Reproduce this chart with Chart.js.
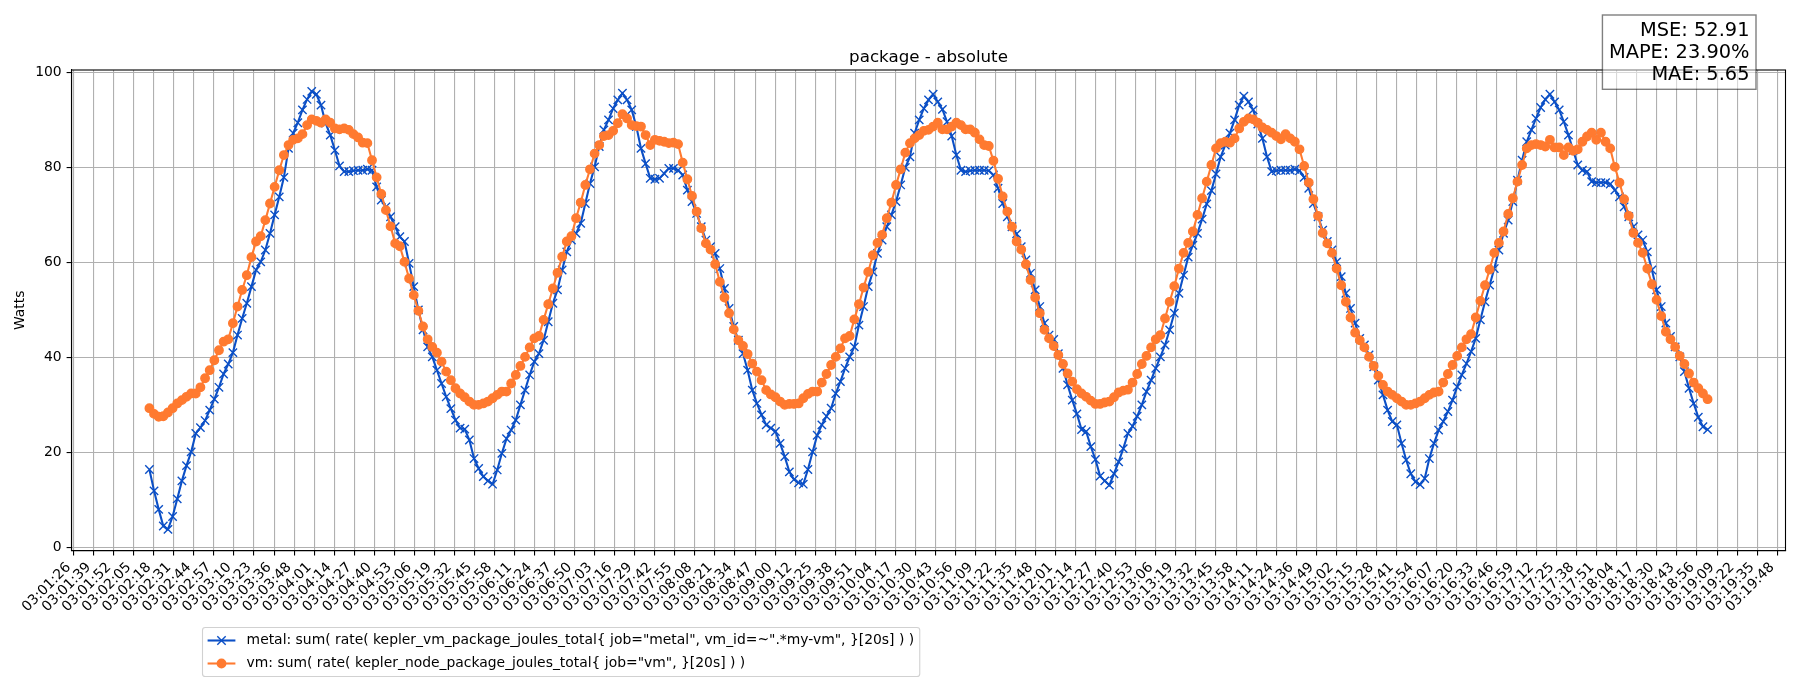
<html lang="en">
<head>
    <meta charset="UTF-8">
    <title>package - absolute</title>
    <script src="https://cdn.jsdelivr.net/npm/chart.js@4.4.0"></script>
    <style>
        body { margin: 0; background: #fff; }
        canvas { display: block; }
    </style>
</head>
<body>
    <canvas id="myChart" width="1800" height="700"></canvas>
    <script>
        const chartTitle = 'package - absolute';

        // x axis tick labels, evenly spaced (~13 s apart)
        const tickLabels = [
            '03:01:26', '03:01:39', '03:01:52', '03:02:05', '03:02:18', '03:02:31', '03:02:44', '03:02:57',
            '03:03:10', '03:03:23', '03:03:36', '03:03:48', '03:04:01', '03:04:14', '03:04:27', '03:04:40',
            '03:04:53', '03:05:06', '03:05:19', '03:05:32', '03:05:45', '03:05:58', '03:06:11', '03:06:24',
            '03:06:37', '03:06:50', '03:07:03', '03:07:16', '03:07:29', '03:07:42', '03:07:55', '03:08:08',
            '03:08:21', '03:08:34', '03:08:47', '03:09:00', '03:09:12', '03:09:25', '03:09:38', '03:09:51',
            '03:10:04', '03:10:17', '03:10:30', '03:10:43', '03:10:56', '03:11:09', '03:11:22', '03:11:35',
            '03:11:48', '03:12:01', '03:12:14', '03:12:27', '03:12:40', '03:12:53', '03:13:06', '03:13:19',
            '03:13:32', '03:13:45', '03:13:58', '03:14:11', '03:14:24', '03:14:36', '03:14:49', '03:15:02',
            '03:15:15', '03:15:28', '03:15:41', '03:15:54', '03:16:07', '03:16:20', '03:16:33', '03:16:46',
            '03:16:59', '03:17:12', '03:17:25', '03:17:38', '03:17:51', '03:18:04', '03:18:17', '03:18:30',
            '03:18:43', '03:18:56', '03:19:09', '03:19:22', '03:19:35', '03:19:48'
        ];
        const tickSpacing = 12.965; // seconds between two tick labels

        // one sample every 3 s, first sample 49 s after 03:01:26
        const sampleStart = 49;
        const sampleStep = 3;

        const seriesLabels = [
            'metal: sum( rate( kepler_vm_package_joules_total{ job="metal", vm_id=~".*my-vm", }[20s] ) )',
            'vm: sum( rate( kepler_node_package_joules_total{ job="vm", }[20s] ) )'
        ];

        const metalWatts = [
            16.4, 11.9, 8.0, 4.5, 3.8, 6.5, 10.2, 14.0, 17.2, 20.1,
            24.0, 25.2, 26.7, 28.9, 31.2, 33.7, 36.5, 38.6, 41.0, 44.7,
            48.2, 51.4, 54.9, 58.4, 60.1, 62.6, 66.1, 70.0, 73.8, 77.9,
            84.0, 87.2, 89.4, 92.1, 94.3, 96.0, 95.4, 93.1, 89.3, 86.8,
            83.6, 80.3, 79.1, 79.1, 79.3, 79.4, 79.4, 79.6, 79.4, 75.9,
            73.1, 71.7, 69.6, 67.5, 65.4, 64.4, 59.8, 54.9, 50.0, 45.8,
            42.2, 40.1, 37.3, 34.5, 31.7, 29.2, 26.8, 25.1, 24.9, 22.6,
            18.7, 16.6, 14.9, 14.0, 13.3, 16.3, 19.8, 22.9, 24.7, 26.8,
            30.0, 33.1, 36.3, 39.1, 40.8, 43.6, 47.5, 51.4, 54.2, 58.4,
            62.2, 64.7, 66.1, 68.2, 72.4, 76.6, 80.1, 84.4, 87.9, 90.0,
            92.4, 94.2, 95.6, 94.2, 92.1, 88.6, 84.0, 80.8, 77.7, 77.5,
            77.7, 78.7, 79.8, 79.8, 79.4, 78.4, 75.2, 72.8, 70.3, 67.5,
            64.7, 63.3, 61.9, 58.7, 54.5, 50.3, 46.5, 43.6, 40.8, 37.3,
            33.1, 30.3, 27.9, 25.8, 25.1, 24.4, 21.9, 19.1, 15.9, 14.3,
            13.6, 13.3, 16.4, 20.1, 23.6, 25.8, 27.6, 29.3, 32.4, 34.9,
            37.7, 40.1, 42.2, 46.8, 50.7, 54.9, 58.0, 61.9, 64.7, 67.5,
            70.0, 72.8, 76.3, 80.0, 82.2, 87.2, 90.0, 92.4, 94.2, 95.4,
            93.8, 92.2, 89.6, 86.6, 82.6, 79.4, 79.1, 79.3, 79.4, 79.4,
            79.4, 79.3, 78.4, 75.6, 72.4, 69.6, 67.5, 66.0, 63.3, 60.5,
            57.7, 54.2, 50.7, 47.2, 44.7, 43.8, 40.8, 37.7, 34.2, 31.0,
            28.1, 24.8, 24.4, 21.2, 18.5, 15.0, 14.0, 13.1, 15.5, 18.0,
            20.8, 24.0, 25.5, 27.6, 30.0, 32.8, 35.2, 37.7, 40.1, 42.6,
            45.8, 49.3, 53.5, 57.3, 61.1, 63.6, 66.1, 69.1, 72.3, 75.1,
            78.6, 82.2, 84.7, 87.2, 90.0, 93.1, 95.0, 93.8, 92.1, 89.1,
            86.1, 82.2, 79.1, 79.3, 79.4, 79.4, 79.4, 79.6, 79.3, 77.9,
            75.6, 72.4, 69.6, 66.8, 64.4, 62.6, 60.1, 57.0, 53.5, 50.3,
            47.2, 44.0, 42.6, 40.5, 38.0, 35.2, 32.1, 28.9, 26.5, 25.8,
            21.9, 18.4, 15.5, 13.8, 13.2, 14.5, 18.7, 21.9, 24.7, 26.5,
            28.6, 31.0, 33.8, 36.3, 38.7, 41.2, 44.0, 47.9, 51.7, 55.2,
            58.7, 62.6, 66.1, 68.9, 72.8, 77.3, 81.5, 85.4, 87.9, 90.3,
            92.6, 94.3, 95.4, 93.8, 92.1, 89.6, 86.8, 83.6, 80.5, 79.4,
            79.1, 77.0, 76.8, 76.8, 76.8, 76.5, 75.2, 73.8, 71.7, 69.6,
            67.5, 65.8, 64.7, 62.2, 58.4, 54.2, 50.7, 47.2, 44.4, 42.2,
            40.1, 37.0, 33.5, 30.3, 27.4, 25.4, 24.8
        ];

        const vmWatts = [
            29.3, 28.1, 27.5, 27.6, 28.4, 29.3, 30.3, 31.0, 31.7, 32.4,
            32.4, 33.7, 35.6, 37.3, 39.4, 41.5, 43.3, 43.8, 47.2, 50.7,
            54.2, 57.3, 61.1, 64.4, 65.5, 68.9, 72.4, 75.9, 79.4, 82.6,
            84.7, 85.8, 86.1, 87.0, 88.9, 90.1, 89.8, 89.4, 90.1, 89.4,
            88.2, 88.0, 88.2, 87.9, 87.0, 86.3, 85.2, 85.1, 81.5, 77.9,
            74.4, 71.0, 67.6, 64.0, 63.4, 60.1, 56.6, 53.1, 49.8, 46.5,
            43.8, 42.2, 41.0, 39.1, 37.0, 35.2, 33.5, 32.4, 31.6, 30.7,
            30.0, 30.0, 30.3, 30.7, 31.4, 32.1, 32.8, 32.8, 34.5, 36.3,
            38.2, 40.1, 42.1, 44.0, 44.5, 47.9, 51.2, 54.5, 57.8, 61.2,
            64.4, 65.5, 69.3, 72.6, 76.3, 79.6, 82.9, 84.7, 86.6, 86.8,
            87.7, 89.3, 91.2, 90.3, 88.9, 88.7, 88.6, 86.8, 84.7, 85.8,
            85.6, 85.4, 85.1, 85.2, 84.9, 81.0, 77.5, 74.0, 70.7, 67.2,
            64.0, 62.7, 59.6, 55.9, 52.6, 49.3, 45.9, 43.6, 42.4, 40.7,
            38.7, 37.0, 35.2, 33.1, 32.2, 31.6, 30.7, 30.0, 30.2, 30.2,
            30.3, 31.4, 32.3, 32.8, 32.8, 34.7, 36.5, 38.4, 40.1, 41.9,
            44.0, 44.5, 48.0, 51.2, 54.7, 58.0, 61.5, 64.1, 65.8, 69.3,
            72.6, 76.3, 79.6, 83.1, 85.1, 86.1, 86.8, 87.7, 87.9, 88.6,
            89.4, 88.0, 88.0, 88.6, 89.4, 88.9, 88.0, 88.0, 87.3, 85.9,
            84.7, 84.5, 81.4, 77.6, 73.9, 70.7, 67.5, 64.4, 62.7, 59.6,
            56.3, 52.6, 49.3, 45.8, 44.0, 42.4, 40.5, 38.6, 36.6, 34.9,
            33.3, 32.4, 31.7, 30.9, 30.2, 30.2, 30.5, 30.7, 31.6, 32.6,
            33.0, 33.2, 34.7, 36.5, 38.6, 40.3, 42.1, 43.8, 44.7, 48.2,
            51.7, 55.0, 58.7, 62.0, 64.1, 66.5, 70.0, 73.5, 77.0, 80.5,
            84.0, 85.1, 85.4, 85.2, 86.1, 88.2, 89.6, 90.3, 90.1, 89.4,
            88.4, 87.9, 87.3, 86.6, 85.9, 87.0, 86.1, 85.4, 83.8, 80.3,
            76.8, 73.3, 69.8, 66.2, 64.0, 62.0, 58.7, 55.2, 51.7, 48.4,
            45.2, 43.6, 42.1, 40.1, 38.2, 36.1, 34.2, 32.8, 32.1, 31.4,
            30.7, 30.0, 30.0, 30.3, 30.7, 31.4, 32.1, 32.6, 32.8, 34.7,
            36.5, 38.4, 40.3, 42.1, 43.8, 44.9, 48.4, 51.9, 55.2, 58.5,
            62.0, 64.1, 66.5, 70.2, 73.5, 77.0, 80.5, 84.0, 84.7, 84.9,
            84.7, 84.4, 85.8, 84.2, 84.2, 82.6, 84.2, 83.5, 83.8, 85.4,
            86.5, 87.3, 85.8, 87.3, 85.4, 84.0, 80.1, 76.8, 73.3, 69.8,
            66.2, 64.1, 62.0, 58.7, 55.4, 52.1, 48.7, 45.4, 43.8, 42.2,
            40.3, 38.6, 36.6, 34.7, 33.5, 32.4, 31.2
        ];

        const yTicks = [0, 20, 40, 60, 80, 100];
        const yMin = -0.7;
        const yMax = 100.5;

        const metrics = ['MSE: 52.91', 'MAPE: 23.90%', 'MAE: 5.65'];

        const toPoints = values => values.map((v, i) => ({ x: sampleStart + i * sampleStep, y: v }));

        // matplotlib style 5% margin around the sampled time range
        const firstT = sampleStart;
        const lastT = sampleStart + (metalWatts.length - 1) * sampleStep;
        const xMargin = 0.05 * (lastT - firstT);

        const FONT = '"DejaVu Sans", "Liberation Sans", sans-serif';
        Chart.defaults.font.family = FONT;

        // frame, rotated time labels, title, legend and metrics box
        const overlay = {
            id: 'overlay',
            afterDraw(chart) {
                const ctx = chart.ctx;
                const area = chart.chartArea;
                const xScale = chart.scales.x;
                ctx.save();

                ctx.strokeStyle = '#000';
                ctx.lineWidth = 1.1;
                ctx.strokeRect(area.left, area.top, area.right - area.left, area.bottom - area.top);

                ctx.fillStyle = '#000';
                ctx.font = '13.9px ' + FONT;
                ctx.textAlign = 'right';
                ctx.textBaseline = 'alphabetic';
                xScale.ticks.forEach((t, k) => {
                    const px = xScale.getPixelForValue(t.value);
                    ctx.save();
                    ctx.translate(px, area.bottom + 19.5);
                    ctx.rotate(-Math.PI / 4);
                    ctx.fillText(tickLabels[k], 0, -3.3);
                    ctx.restore();
                });

                ctx.font = '16.7px ' + FONT;
                ctx.textAlign = 'center';
                ctx.fillText(chartTitle, (area.left + area.right) / 2, area.top - 8.3);

                // legend
                ctx.font = '13.9px ' + FONT;
                const textX = 246.6;
                const widest = Math.max(...chart.data.datasets.map(ds => ctx.measureText(ds.label).width));
                const boxL = 202.5, boxT = 627.5, boxB = 676.5;
                const boxR = textX + widest + 5.6;
                ctx.beginPath();
                ctx.roundRect(boxL, boxT, boxR - boxL, boxB - boxT, 2.8);
                ctx.fillStyle = 'rgba(255,255,255,0.8)';
                ctx.fill();
                ctx.strokeStyle = 'rgba(204,204,204,0.9)';
                ctx.lineWidth = 1.1;
                ctx.stroke();
                const rowY = [640.5, 663.5];
                chart.data.datasets.forEach((ds, k) => {
                    const y = rowY[k];
                    const cx = 221.5;
                    ctx.strokeStyle = ds.borderColor;
                    ctx.lineWidth = ds.borderWidth;
                    ctx.beginPath();
                    ctx.moveTo(207.6, y);
                    ctx.lineTo(235.4, y);
                    ctx.stroke();
                    if (ds.pointStyle === 'crossRot') {
                        const r = ds.pointRadius * Math.SQRT1_2;
                        ctx.lineWidth = ds.pointBorderWidth;
                        ctx.beginPath();
                        ctx.moveTo(cx - r, y - r); ctx.lineTo(cx + r, y + r);
                        ctx.moveTo(cx - r, y + r); ctx.lineTo(cx + r, y - r);
                        ctx.stroke();
                    } else {
                        ctx.beginPath();
                        ctx.arc(cx, y, ds.pointRadius + ds.pointBorderWidth / 2, 0, Math.PI * 2);
                        ctx.fillStyle = ds.pointBackgroundColor;
                        ctx.fill();
                    }
                    ctx.fillStyle = '#000';
                    ctx.textAlign = 'left';
                    ctx.textBaseline = 'middle';
                    ctx.fillText(ds.label, textX, y);
                });

                // error metrics box (top right)
                ctx.font = '19.4px ' + FONT;
                ctx.textBaseline = 'alphabetic';
                ctx.textAlign = 'right';
                const mRight = 1749.5;
                const mWidest = Math.max(...metrics.map(m => ctx.measureText(m).width));
                const mL = mRight - mWidest - 6.5, mT = 15, mR = 1756, mB = 89.3;
                ctx.fillStyle = 'rgba(255,255,255,0.5)';
                ctx.fillRect(mL, mT, mR - mL, mB - mT);
                ctx.strokeStyle = 'rgba(0,0,0,0.5)';
                ctx.lineWidth = 1.4;
                ctx.strokeRect(mL, mT, mR - mL, mB - mT);
                ctx.fillStyle = '#000';
                metrics.forEach((m, k) => ctx.fillText(m, mRight, 36 + 22.2 * k));

                ctx.restore();
            }
        };

        const gridOpts = { color: '#b0b0b0', lineWidth: 1.1, drawTicks: true, tickLength: 4.9, tickColor: '#000', tickWidth: 1.1 };
        const borderOpts = { display: true, color: '#000', width: 1.1 };

        const ctx = document.getElementById('myChart').getContext('2d');
        const myChart = new Chart(ctx, {
            type: 'line',
            data: {
                datasets: [{
                    label: seriesLabels[0],
                    data: toPoints(metalWatts),
                    borderColor: '#0b4fc6',
                    backgroundColor: '#0b4fc6',
                    borderWidth: 2.08,
                    pointStyle: 'crossRot',
                    pointRadius: 5.9,
                    pointBorderWidth: 1.4,
                    pointBorderColor: '#0b4fc6',
                    pointBackgroundColor: '#0b4fc6',
                    fill: false,
                    order: 1
                }, {
                    label: seriesLabels[1],
                    data: toPoints(vmWatts),
                    borderColor: '#ff7a30',
                    backgroundColor: '#ff7a30',
                    borderWidth: 2.08,
                    pointStyle: 'circle',
                    pointRadius: 4.2,
                    pointBorderWidth: 1.4,
                    pointBorderColor: '#ff7a30',
                    pointBackgroundColor: '#ff7a30',
                    fill: false,
                    order: 0
                }]
            },
            options: {
                responsive: false,
                animation: false,
                events: [],
                layout: { padding: { left: 0, right: 14.5, top: 70, bottom: 0 } },
                plugins: {
                    legend: { display: false },
                    title: { display: false },
                    tooltip: { enabled: false }
                },
                scales: {
                    x: {
                        type: 'linear',
                        min: firstT - xMargin,
                        max: lastT + xMargin,
                        afterBuildTicks: scale => {
                            scale.ticks = tickLabels.map((_, k) => ({ value: k * tickSpacing }));
                        },
                        afterFit: scale => { scale.height = 700 - 550.7; },
                        ticks: { display: false },
                        grid: gridOpts,
                        border: borderOpts
                    },
                    y: {
                        min: yMin,
                        max: yMax,
                        afterBuildTicks: scale => {
                            scale.ticks = yTicks.map(v => ({ value: v }));
                        },
                        afterFit: scale => { scale.width = 71.5; },
                        ticks: { color: '#000', font: { size: 13.9 }, padding: 4.9 },
                        grid: gridOpts,
                        border: borderOpts,
                        title: {
                            display: true,
                            text: 'Watts',
                            color: '#000',
                            font: { size: 13.9 },
                            padding: { top: 12.5, bottom: 0 }
                        }
                    }
                }
            },
            plugins: [overlay]
        });
    </script>
</body>
</html>
